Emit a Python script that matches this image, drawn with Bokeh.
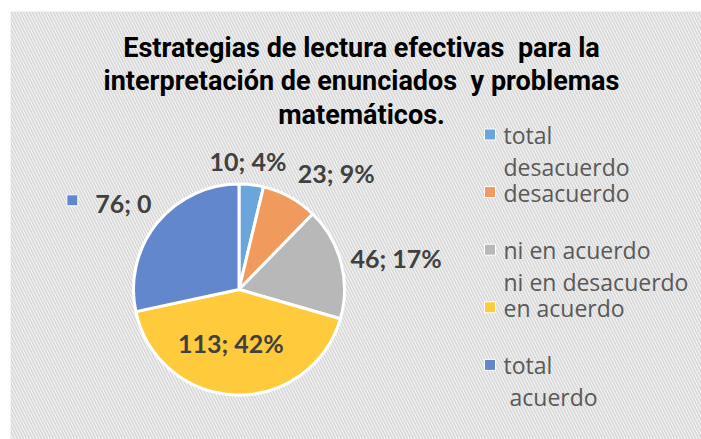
import math
from bokeh.plotting import figure
from bokeh.models import ColumnDataSource, Range1d, BoxAnnotation
from bokeh.core.properties import value
from bokeh.embed import file_html
from bokeh.resources import INLINE

# ---- data ----
categories = ["total desacuerdo", "desacuerdo", "ni en acuerdo ni en desacuerdo", "en acuerdo", "total acuerdo"]
counts = [10, 23, 46, 113, 76]
data_labels = ["10; 4%", "23; 9%", "46; 17%", "113; 42%", "76; 0"]
legend_line1 = ["total", "desacuerdo", "ni en acuerdo", "en acuerdo", "total"]
legend_line2 = ["desacuerdo", "", "ni en desacuerdo", "", "\u00a0acuerdo"]
title_lines = ["Estrategias de lectura efectivas\u00a0 para la",
               "interpretación de enunciados\u00a0 y problemas",
               "matemáticos."]

# ---- style ----
colors = ["#6aa6dc", "#f09a5e", "#b8b8b8", "#ffcb3c", "#6287cc"]
W, H = 701, 439
cx, cy, R = 238.5, 150.0, 105.5
label_r = [1.22, 1.44, 1.52, 0.51, 1.37]
label_shift_deg = [2.7, -10.9, -3.3, -6.6, 2.1]

total = sum(counts)
starts, ends, mids = [], [], []
acc = 0.0
for c in counts:
    a0 = math.pi / 2 - 2 * math.pi * acc / total
    acc += c
    a1 = math.pi / 2 - 2 * math.pi * acc / total
    starts.append(a0)
    ends.append(a1)
    mids.append((a0 + a1) / 2)

lx = [cx + R * r * math.cos(m + math.radians(s)) for m, r, s in zip(mids, label_r, label_shift_deg)]
ly = [cy + R * r * math.sin(m + math.radians(s)) for m, r, s in zip(mids, label_r, label_shift_deg)]

p = figure(width=W, height=H, x_range=Range1d(0, W), y_range=Range1d(0, H),
           output_backend="svg", toolbar_location=None, min_border=0)
p.axis.visible = False
p.grid.visible = False
p.outline_line_color = None
p.background_fill_color = "white"
p.border_fill_color = "white"

bg = BoxAnnotation(left=10.5, right=W + 20, bottom=-20, top=H - 11.5,
                   fill_color="white", fill_alpha=1.0,
                   hatch_pattern="\\", hatch_color="#dadada", hatch_scale=6, hatch_weight=2,
                   line_color="#d9d9d9", line_width=2, level="underlay")
p.add_layout(bg)

src = ColumnDataSource(dict(cat=categories, start=starts, end=ends, color=colors))
p.wedge(x=cx, y=cy, radius=R, start_angle="start", end_angle="end", direction="clock",
        fill_color="color", line_color="white", line_width=3, source=src)

# data labels
p.text(x=lx, y=ly, text=data_labels, text_font=value("Lato"), text_font_style="bold",
       text_font_size="25px", text_color="#404040", text_align="center", text_baseline="middle")
# key next to last label
p.scatter(x=[lx[4] - 51], y=[ly[4] + 2.5], marker="square", size=11,
          fill_color=colors[4], line_color="white", line_width=1)

# title
ty0, tstep = 392, 33.5
p.text(x=[361] * len(title_lines), y=[ty0 - i * tstep for i in range(len(title_lines))],
       text=title_lines, text_font=value("Roboto"), text_font_style="bold",
       text_font_size="27px", text_color="black", text_align="center", text_baseline="middle")

# legend
leg_x, leg_y0, leg_step, leg_gap = 489.5, 304.5, 57.6, 32
ys1 = [leg_y0 - i * leg_step for i in range(len(categories))]
ys2 = [y - leg_gap for y in ys1]
p.scatter(x=[leg_x] * len(categories), y=[y + 0.5 for y in ys1], marker="square", size=11,
          fill_color=colors, line_color="white", line_width=1)
p.text(x=[leg_x + 13.5] * len(categories), y=ys1, text=legend_line1, text_font=value("Open Sans"),
       text_font_size="23px", text_color="#595959", text_align="left", text_baseline="middle")
p.text(x=[leg_x + 13.5] * len(categories), y=ys2, text=legend_line2, text_font=value("Open Sans"),
       text_font_size="23px", text_color="#595959", text_align="left", text_baseline="middle")

open("out.html", "w").write(file_html(p, INLINE))
